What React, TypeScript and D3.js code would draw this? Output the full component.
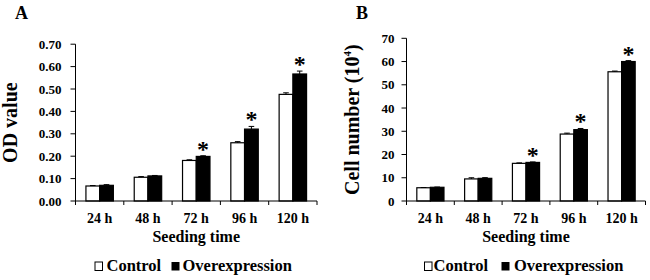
import React from "react";
import * as d3 from "d3";

const categories = ["24 h", "48 h", "72 h", "96 h", "120 h"];
const seriesNames = ["Control", "Overexpression"];

const odControl = [0.067, 0.106, 0.181, 0.26, 0.476];
const odOver = [0.07, 0.112, 0.199, 0.321, 0.567];
const odControlErr = [0.002, 0.003, 0.003, 0.005, 0.007];
const odOverErr = [0.003, 0.002, 0.003, 0.012, 0.013];
const odTicks = [0, 0.1, 0.2, 0.3, 0.4, 0.5, 0.6, 0.7];

const cellControl = [5.7, 9.5, 16.2, 28.8, 55.6];
const cellOver = [5.9, 9.75, 16.6, 30.7, 60.0];
const cellControlErr = [0.1, 0.5, 0.2, 0.4, 0.3];
const cellOverErr = [0.1, 0.3, 0.2, 0.5, 0.4];
const cellTicks = [0, 10, 20, 30, 40, 50, 60, 70];

const significant = [false, false, true, true, true];

const FONT = "'Liberation Serif', 'Times New Roman', serif";

type PanelProps = {
  letter: string;
  letterX: number;
  x0: number;
  x1: number;
  yTop: number;
  yBottom: number;
  yMax: number;
  ticks: number[];
  tickFormat: (v: number) => string;
  labelGap: number;
  control: number[];
  over: number[];
  controlErr: number[];
  overErr: number[];
  titleX: number;
  title: React.ReactNode;
  legend: { box1: number; text1: number; box2: number; text2: number };
};

function Panel(p: PanelProps) {
  const x = d3.scaleBand<string>().domain(categories).range([p.x0, p.x1]).padding(0);
  const xs = d3
    .scaleBand<string>()
    .domain(seriesNames)
    .range([0, x.bandwidth()])
    .paddingInner(0)
    .paddingOuter(0.76);
  const y = d3.scaleLinear().domain([0, p.yMax]).range([p.yBottom, p.yTop]);
  const boundaries = [p.x0, ...categories.map((c) => (x(c) as number) + x.bandwidth())];
  const titleY = (p.yTop + p.yBottom) / 2;

  return (
    <g fontFamily={FONT} fontWeight="bold" fill="#000">
      <text x={p.letterX} y={19} fontSize={18}>
        {p.letter}
      </text>
      {/* bars */}
      {categories.map((c, i) => {
        const bx = x(c) as number;
        const vals = [p.control[i], p.over[i]];
        const errs = [p.controlErr[i], p.overErr[i]];
        return (
          <g key={c}>
            {seriesNames.map((s, j) => {
              const left = bx + (xs(s) as number);
              const w = xs.bandwidth();
              const top = y(vals[j]);
              const eTop = y(vals[j] + errs[j]);
              const cx = left + w / 2;
              return (
                <g key={s}>
                  <rect
                    x={left}
                    y={top}
                    width={w}
                    height={p.yBottom - top}
                    fill={j === 0 ? "#fff" : "#000"}
                    stroke="#000"
                    strokeWidth={1.2}
                  />
                  <line x1={cx} x2={cx} y1={top} y2={eTop} stroke="#000" strokeWidth={1} />
                  <line x1={cx - 2.8} x2={cx + 2.8} y1={eTop} y2={eTop} stroke="#000" strokeWidth={1} />
                </g>
              );
            })}
            {significant[i] && (
              <text
                x={bx + (xs(seriesNames[1]) as number) + xs.bandwidth() / 2}
                y={y(vals[1] + errs[1]) + 1}
                fontSize={24}
                textAnchor="middle"
              >
                *
              </text>
            )}
          </g>
        );
      })}
      {/* y axis */}
      <line x1={p.x0} x2={p.x0} y1={p.yTop} y2={p.yBottom} stroke="#000" strokeWidth={1} />
      {p.ticks.map((t) => (
        <g key={t}>
          <line x1={p.x0 - 5} x2={p.x0} y1={y(t)} y2={y(t)} stroke="#000" strokeWidth={1} />
          <text x={p.x0 - p.labelGap} y={y(t)} dy="0.35em" fontSize={13} textAnchor="end">
            {p.tickFormat(t)}
          </text>
        </g>
      ))}
      {/* x axis */}
      <line x1={p.x0} x2={p.x1} y1={p.yBottom} y2={p.yBottom} stroke="#000" strokeWidth={1} />
      {boundaries.map((b, i) => (
        <line key={i} x1={b} x2={b} y1={p.yBottom} y2={p.yBottom + 4} stroke="#000" strokeWidth={1} />
      ))}
      {categories.map((c) => (
        <text key={c} x={(x(c) as number) + x.bandwidth() / 2} y={222.5} fontSize={14} textAnchor="middle">
          {c}
        </text>
      ))}
      <text x={(p.x0 + p.x1) / 2} y={241.5} fontSize={16} textAnchor="middle">
        Seeding time
      </text>
      <text
        transform={`translate(${p.titleX},${titleY}) rotate(-90)`}
        fontSize={20}
        textAnchor="middle"
      >
        {p.title}
      </text>
      {/* legend */}
      <rect x={p.legend.box1} y={262} width={7.5} height={8.5} fill="#fff" stroke="#000" strokeWidth={1} />
      <text x={p.legend.text1} y={270.5} fontSize={16.5}>
        {seriesNames[0]}
      </text>
      <rect x={p.legend.box2} y={262} width={8} height={8.5} fill="#000" />
      <text x={p.legend.text2} y={270.5} fontSize={16.5}>
        {seriesNames[1]}
      </text>
    </g>
  );
}

export default function App() {
  return (
    <svg
      width={650}
      height={280}
      style={{ position: "absolute", left: 0, top: 0, background: "#fff" }}
    >
      <rect width={650} height={280} fill="#fff" />
      <Panel
        letter="A"
        letterX={15}
        x0={75.5}
        x1={317}
        yTop={44.2}
        yBottom={201}
        yMax={0.7}
        ticks={odTicks}
        tickFormat={d3.format(".2f")}
        labelGap={14}
        control={odControl}
        over={odOver}
        controlErr={odControlErr}
        overErr={odOverErr}
        titleX={16.5}
        title="OD value"
        legend={{ box1: 95, text1: 106.5, box2: 171.5, text2: 182.5 }}
      />
      <Panel
        letter="B"
        letterX={356}
        x0={406.5}
        x1={645.5}
        yTop={38.3}
        yBottom={201}
        yMax={70}
        ticks={cellTicks}
        tickFormat={d3.format("d")}
        labelGap={12}
        control={cellControl}
        over={cellOver}
        controlErr={cellControlErr}
        overErr={cellOverErr}
        titleX={358.5}
        title={
          <>
            Cell number (10
            <tspan fontSize={11} dy={-8}>
              4
            </tspan>
            <tspan dy={8}>)</tspan>
          </>
        }
        legend={{ box1: 424.5, text1: 433.5, box2: 501.5, text2: 514 }}
      />
    </svg>
  );
}
